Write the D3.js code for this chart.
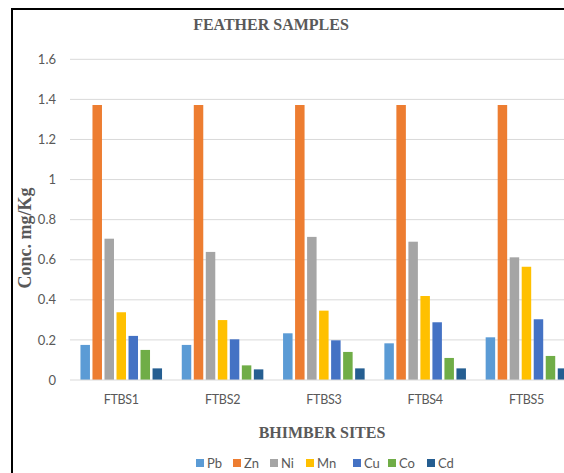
<!DOCTYPE html>
<html>
<head>
<meta charset="utf-8">
<script src="https://cdn.jsdelivr.net/npm/d3@7"></script>
<style>
  html, body { margin: 0; padding: 0; background: #fff; }
  svg { display: block; }
</style>
</head>
<body>
<script>
// Heavy-metal concentrations in feather samples from the Bhimber sites
const sites = ["FTBS1", "FTBS2", "FTBS3", "FTBS4", "FTBS5"];
const metals = ["Pb", "Zn", "Ni", "Mn", "Cu", "Co", "Cd"];
const Pb = [0.175, 0.175, 0.233, 0.183, 0.213];
const Zn = [1.372, 1.372, 1.372, 1.372, 1.372];
const Ni = [0.705, 0.639, 0.714, 0.690, 0.612];
const Mn = [0.338, 0.299, 0.346, 0.419, 0.565];
const Cu = [0.220, 0.203, 0.198, 0.288, 0.303];
const Co = [0.150, 0.073, 0.140, 0.110, 0.120];
const Cd = [0.058, 0.053, 0.058, 0.058, 0.058];
const yTicks = [0, 0.2, 0.4, 0.6, 0.8, 1, 1.2, 1.4, 1.6];
const colors = ["#5B9BD5", "#ED7D31", "#A5A5A5", "#FFC000", "#4472C4", "#70AD47", "#255E91"];

const series = { Pb, Zn, Ni, Mn, Cu, Co, Cd };

const W = 564, H = 473;
const svg = d3.select("body").append("svg").attr("width", W).attr("height", H);

// outer frame
svg.append("rect")
  .attr("x", 12).attr("y", 9)
  .attr("width", W + 10).attr("height", H + 10)
  .attr("fill", "#fff").attr("stroke", "#000").attr("stroke-width", 2);

const plot = { left: 70.6, top: 59.3, bottom: 380, step: 101.3 };

const y = d3.scaleLinear().domain([0, 1.6]).range([plot.bottom, plot.top]);
const x = d3.scaleBand()
  .domain(sites)
  .range([plot.left, plot.left + plot.step * sites.length])
  .paddingInner(0.171)
  .paddingOuter(0.0855);
const xm = d3.scaleBand().domain(metals).range([0, x.bandwidth()]).paddingInner(0.21).paddingOuter(0.1);

// gridlines
svg.append("g")
  .selectAll("line")
  .data(yTicks.filter(d => d > 0))
  .join("line")
  .attr("x1", 70).attr("x2", W)
  .attr("y1", d => y(d)).attr("y2", d => y(d))
  .attr("stroke", "#d9d9d9").attr("stroke-width", 1);

// y axis labels
const yAxis = d3.axisLeft(y).tickValues(yTicks).tickSize(0).tickPadding(0)
  .tickFormat(d => d3.format("")(Math.round(d * 10) / 10));
svg.append("g")
  .attr("transform", "translate(56,0)")
  .call(yAxis)
  .call(g => g.select(".domain").remove())
  .call(g => g.selectAll("text")
    .attr("font-family", "Lato, 'Open Sans', sans-serif")
    .attr("font-size", 13)
    .attr("fill", "#595959"));

// bars
const groups = svg.append("g")
  .selectAll("g")
  .data(sites)
  .join("g")
  .attr("transform", d => `translate(${x(d)},0)`);

groups.selectAll("rect")
  .data((site, i) => metals.map((m, k) => ({ metal: m, value: series[m][i], color: colors[k] })))
  .join("rect")
  .attr("x", d => xm(d.metal))
  .attr("width", xm.bandwidth())
  .attr("y", d => y(d.value))
  .attr("height", d => y(0) - y(d.value))
  .attr("fill", d => d.color);

// baseline
svg.append("line")
  .attr("x1", 70).attr("x2", W)
  .attr("y1", y(0)).attr("y2", y(0))
  .attr("stroke", "#d9d9d9").attr("stroke-width", 1);

// x axis labels
const xAxis = d3.axisBottom(x).tickSize(0).tickPadding(0);
svg.append("g")
  .attr("transform", `translate(0,${plot.bottom + 15})`)
  .call(xAxis)
  .call(g => g.select(".domain").remove())
  .call(g => g.selectAll("text")
    .attr("font-family", "Lato, 'Open Sans', sans-serif")
    .attr("font-size", 12.5)
    .attr("letter-spacing", -0.3)
    .attr("fill", "#595959"));

// titles
const serif = "'Liberation Serif', 'Times New Roman', serif";
svg.append("text")
  .attr("x", 271).attr("y", 30)
  .attr("text-anchor", "middle")
  .attr("font-family", serif).attr("font-weight", "bold").attr("font-size", 16)
  .attr("fill", "#595959")
  .text("FEATHER SAMPLES");

svg.append("text")
  .attr("x", 322).attr("y", 438)
  .attr("text-anchor", "middle")
  .attr("font-family", serif).attr("font-weight", "bold").attr("font-size", 16)
  .attr("fill", "#595959")
  .text("BHIMBER SITES");

svg.append("text")
  .attr("transform", "translate(31,238) rotate(-90)")
  .attr("text-anchor", "middle")
  .attr("font-family", serif).attr("font-weight", "bold").attr("font-size", 18)
  .attr("fill", "#595959")
  .text("Conc. mg/Kg");

// legend
const legendX = [196, 233, 270, 306, 353, 388, 427];
const legend = svg.append("g")
  .selectAll("g")
  .data(metals)
  .join("g")
  .attr("transform", (d, i) => `translate(${legendX[i]},457)`);
legend.append("rect")
  .attr("width", 8).attr("height", 8).attr("y", 2)
  .attr("fill", (d, i) => colors[i]);
legend.append("text")
  .attr("x", 11).attr("y", 11)
  .attr("font-family", "Lato, 'Open Sans', sans-serif")
  .attr("font-size", 13)
  .attr("fill", "#595959")
  .text(d => d);
</script>
</body>
</html>
